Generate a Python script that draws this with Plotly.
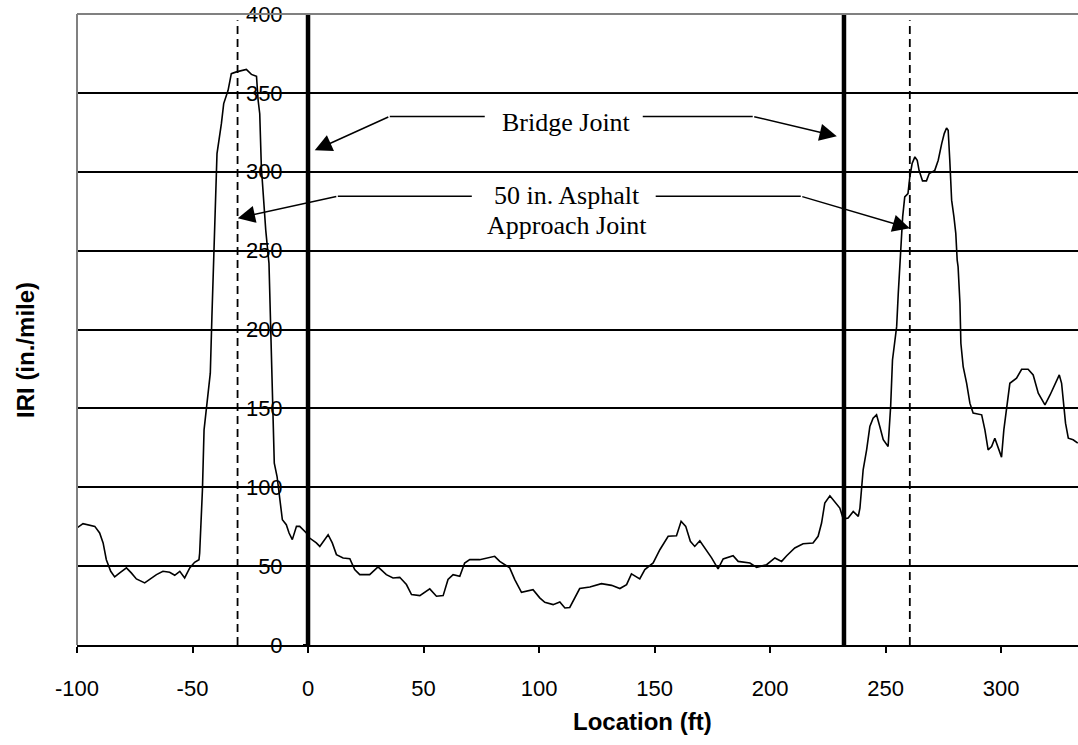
import plotly.graph_objects as go

# IRI profile (Location ft, IRI in./mile)
location = [
    -100.0, -97.4, -92.3, -90.2, -88.7, -87.3, -85.4, -83.7, -81.5, -78.6, -76.5, -74.3,
    -70.7, -68.5, -65.6, -62.8, -59.9, -57.7, -55.5, -53.4, -51.2, -49.1, -47.2, -46.9,
    -46.2, -45.7, -45.0, -43.3, -42.3, -41.6, -40.8, -40.4, -39.4, -37.5, -36.5, -34.6,
    -33.2, -31.0, -28.1, -26.7, -24.5, -22.3, -21.6, -20.9, -20.2, -19.2, -18.3, -16.9,
    -16.3, -15.4, -14.6, -13.4, -12.0, -11.1, -9.4, -8.2, -6.8, -5.0, -3.6, -0.7,
    0.7, 3.6, 5.1, 8.7, 10.5, 12.3, 15.2, 18.1, 20.2, 22.4, 26.7, 30.3,
    33.9, 36.8, 39.7, 42.6, 44.8, 48.4, 52.7, 55.6, 58.5, 60.6, 62.8, 65.7,
    67.8, 70.0, 74.3, 77.2, 80.8, 83.0, 87.3, 89.5, 92.4, 97.4, 100.3, 102.5,
    106.1, 109.0, 111.2, 113.3, 115.5, 117.6, 122.0, 127.0, 131.4, 135.0, 137.9, 140.0,
    143.6, 145.8, 149.4, 152.3, 155.9, 159.5, 161.5, 163.5, 165.5, 167.4, 169.6, 171.8,
    174.7, 177.5, 179.7, 184.0, 186.2, 191.3, 194.2, 198.5, 202.1, 205.0, 207.2, 210.7,
    214.3, 218.6, 220.8, 222.3, 223.7, 225.9, 228.0, 230.2, 231.7, 233.8, 236.0, 238.2,
    238.9, 240.3, 241.8, 243.2, 244.6, 246.1, 247.5, 249.0, 251.1, 252.2, 253.0, 254.0,
    254.8, 255.5, 256.2, 257.4, 258.3, 259.7, 260.5, 261.5, 262.7, 263.7, 264.5, 266.0,
    267.7, 268.9, 271.3, 272.8, 274.3, 275.4, 276.4, 277.1, 277.8, 278.6, 279.6, 280.4,
    281.0, 281.4, 282.2, 282.6, 283.6, 285.1, 286.5, 287.9, 291.6, 293.0, 294.4, 295.9,
    297.3, 298.7, 300.2, 301.2, 302.6, 303.8, 306.7, 308.9, 311.7, 313.9, 316.1, 319.0,
    321.2, 323.3, 325.2, 326.2, 326.9, 327.9, 329.1, 331.2, 333.2,
]
iri = [
    74.2, 76.9, 75.2, 71.0, 64.7, 54.1, 46.7, 43.2, 45.7, 48.9, 45.7, 41.9,
    39.4, 41.5, 44.6, 46.7, 46.1, 44.2, 46.7, 42.5, 48.9, 52.4, 54.1, 58.3,
    77.3, 98.4, 136.4, 159.6, 172.3, 208.1, 250.3, 260.9, 311.5, 330.5, 343.2, 351.6,
    362.2, 363.3, 364.2, 364.9, 361.7, 360.5, 345.3, 336.8, 303.0, 277.7, 263.0, 241.9,
    208.1, 155.4, 115.3, 106.8, 90.0, 79.4, 76.3, 71.0, 66.8, 75.2, 75.2, 71.0,
    67.8, 64.7, 62.5, 69.9, 64.7, 57.3, 55.2, 54.7, 47.8, 44.6, 44.6, 49.5,
    44.6, 42.5, 42.9, 38.3, 32.0, 31.3, 35.6, 30.9, 31.3, 41.5, 44.6, 43.5,
    52.0, 54.1, 54.1, 55.2, 56.2, 53.0, 48.9, 41.5, 33.4, 35.1, 29.9, 27.1,
    25.6, 27.3, 23.5, 23.8, 29.9, 35.8, 36.8, 38.9, 37.8, 35.8, 38.3, 45.1,
    41.9, 47.8, 52.0, 60.4, 68.9, 69.3, 78.4, 75.2, 65.7, 62.5, 66.1, 61.5,
    55.2, 48.2, 54.6, 56.6, 53.0, 52.0, 49.2, 50.9, 55.2, 53.0, 56.6, 61.5,
    64.2, 64.7, 68.9, 77.3, 90.0, 94.6, 91.0, 86.8, 79.9, 80.5, 84.7, 81.5,
    86.8, 111.1, 123.7, 138.5, 143.8, 145.9, 138.5, 130.1, 125.8, 151.1, 180.7, 193.4,
    201.8, 222.9, 241.9, 271.4, 284.1, 286.2, 296.7, 305.2, 309.4, 307.3, 300.9, 294.2,
    294.2, 298.9, 300.9, 307.3, 317.8, 324.2, 327.7, 326.3, 307.3, 282.0, 271.4, 260.9,
    244.0, 239.7, 216.6, 191.3, 176.5, 165.9, 153.3, 147.0, 145.9, 136.4, 123.7, 125.8,
    131.1, 124.8, 119.1, 136.4, 153.3, 165.9, 169.1, 174.8, 174.8, 171.2, 159.6, 152.2,
    158.5, 164.9, 171.2, 165.9, 153.3, 140.6, 131.1, 130.1, 128.0,
]

x_ticks = [-100, -50, 0, 50, 100, 150, 200, 250, 300]
y_ticks = [0, 50, 100, 150, 200, 250, 300, 350, 400]

bridge_joints = [0, 232]
approach_joints = [-30.5, 260.5]

X_MIN, X_MAX = -100, 333.3
Y_MIN, Y_MAX = 0, 400

fig = go.Figure()
fig.add_trace(go.Scatter(
    x=location, y=iri, mode="lines",
    line=dict(color="black", width=1.6),
    showlegend=False, hoverinfo="skip",
))

# dashed approach joint lines
for xj in approach_joints:
    fig.add_shape(type="line", xref="x", yref="y", x0=xj, x1=xj, y0=0, y1=396,
                  line=dict(color="black", width=1.8, dash="8px,5px"), layer="above")
# bold bridge joint lines
for xj in bridge_joints:
    fig.add_shape(type="line", xref="x", yref="y", x0=xj, x1=xj, y0=0, y1=400,
                  line=dict(color="black", width=4.5), layer="above")

# plot-area border (top and left grey)
fig.add_shape(type="line", xref="paper", yref="paper", x0=0, x1=1, y0=1, y1=1,
              line=dict(color="#808080", width=2), layer="above")
fig.add_shape(type="line", xref="paper", yref="paper", x0=0, x1=0, y0=0, y1=1,
              line=dict(color="#808080", width=2), layer="above")

# leader lines (horizontal parts)
leaders = [
    (35.4, 76.5, 335.1), (144.9, 192.5, 335.1),
    (12.9, 70.9, 284.5), (150.5, 213.3, 284.5),
]
for x0, x1, yy in leaders:
    fig.add_shape(type="line", xref="x", yref="y", x0=x0, x1=x1, y0=yy, y1=yy,
                  line=dict(color="black", width=1.5), layer="above")

# arrows (diagonal parts)
arrows = [
    # tip x, tip y, tail x, tail y
    (2.9, 313.6, 35.4, 335.1),
    (228.9, 322.5, 192.5, 335.1),
    (-30.4, 270.6, 12.9, 284.5),
    (260.5, 264.2, 213.3, 284.5),
]
for tx, ty, sx, sy in arrows:
    fig.add_annotation(x=tx, y=ty, ax=sx, ay=sy, xref="x", yref="y",
                       axref="x", ayref="y", text="", showarrow=True,
                       arrowhead=2, arrowsize=2.3, arrowwidth=1.5,
                       arrowcolor="black")

serif = dict(family="Liberation Serif, Times New Roman, serif", size=26, color="black")
fig.add_annotation(x=112, y=331.5, xref="x", yref="y", text="Bridge Joint",
                   showarrow=False, font=serif, xanchor="center", yanchor="middle")
fig.add_annotation(x=112, y=285, xref="x", yref="y", text="50 in. Asphalt",
                   showarrow=False, font=serif, xanchor="center", yanchor="middle")
fig.add_annotation(x=112, y=266, xref="x", yref="y", text="Approach Joint",
                   showarrow=False, font=serif, xanchor="center", yanchor="middle")

sans = "Liberation Sans, Arial, sans-serif"
# axis titles
fig.add_annotation(x=0.5649, y=-0.122, xref="paper", yref="paper",
                   text="<b>Location (ft)</b>", showarrow=False,
                   font=dict(family=sans, size=24, color="black"),
                   xanchor="center", yanchor="middle")
fig.add_annotation(x=-0.052, y=0.4675, xref="paper", yref="paper",
                   text="<b>IRI (in./mile)</b>", showarrow=False, textangle=-90,
                   font=dict(family=sans, size=24, color="black"),
                   xanchor="center", yanchor="middle")

fig.update_layout(
    width=1078, height=745,
    margin=dict(l=77, r=0, t=14, b=100),
    paper_bgcolor="white", plot_bgcolor="white",
    showlegend=False,
    font=dict(family=sans, size=22, color="black"),
    xaxis=dict(
        range=[X_MIN, X_MAX], tickvals=x_ticks, ticktext=[str(v) for v in x_ticks],
        showgrid=False, zeroline=False,
        showline=True, linecolor="black", linewidth=2,
        ticks="outside", ticklen=6, tickwidth=2, tickcolor="black",
        tickfont=dict(family=sans, size=22, color="black"),
        ticklabelstandoff=17,
    ),
    yaxis=dict(
        range=[Y_MIN, Y_MAX], tickvals=y_ticks, ticktext=[str(v) for v in y_ticks],
        anchor="free", position=(0 - X_MIN) / (X_MAX - X_MIN),
        showgrid=True, gridcolor="black", gridwidth=1.5,
        zeroline=False, showline=False,
        ticks="outside", ticklen=5, tickwidth=2, tickcolor="black",
        tickfont=dict(family=sans, size=22, color="black"),
        ticklabelstandoff=16,
    ),
)

fig.write_html(
    "out.html",
    config={"displayModeBar": False},
    post_script="document.body.style.margin='0';document.body.style.overflow='hidden';",
)
